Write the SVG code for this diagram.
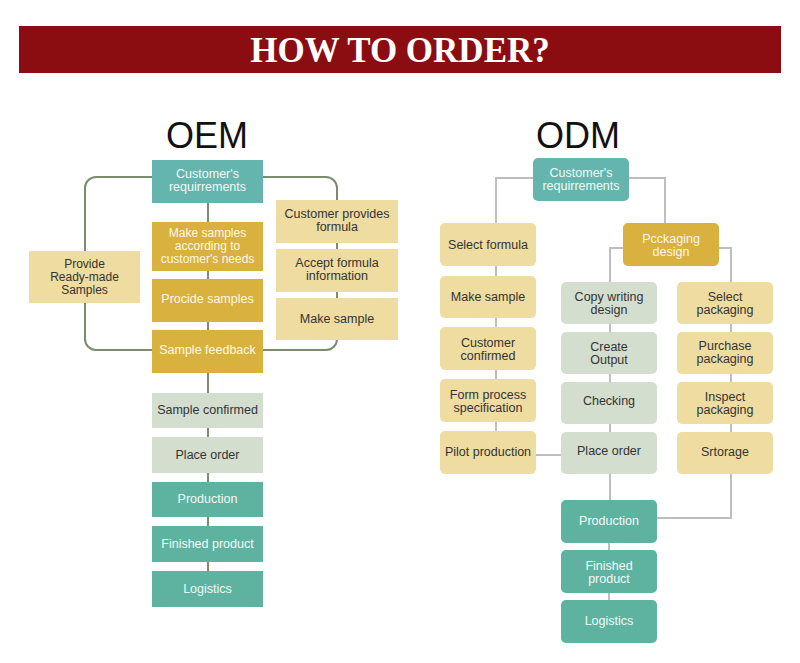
<svg xmlns="http://www.w3.org/2000/svg" width="800" height="663" viewBox="0 0 800 663">
<style>
text{font-family:"Liberation Sans",Arial,sans-serif;font-size:12.5px;text-anchor:middle}
.s{font-size:12px}
.title{font-size:36px;fill:#111}
.hd{font-family:"Liberation Serif","Times New Roman",serif;font-weight:bold;font-size:35px;fill:#fff}
.teal{fill:#64B5AD}
.grn{fill:#5EB3A0}
.mus{fill:#D8B13E}
.tan{fill:#EEDCA1}
.gry{fill:#D4DECF}
.lt{fill:#F2FAF8}
.lm{fill:#FFF8E6}
.dk{fill:#333}
.oem{fill:none;stroke:#7A8E6E;stroke-width:2}
.odm{fill:none;stroke:#BEBEBE;stroke-width:2}
</style>
<rect width="800" height="663" fill="#fff"/>
<g id="header">
<rect x="19" y="26" width="762" height="47" fill="#8B0D12"/>
<text class="hd" x="400" y="62">HOW TO ORDER?</text>
</g>
<text class="title" x="207" y="148">OEM</text>
<text class="title" x="578" y="148">ODM</text>
<g id="connectors">
<rect class="oem" x="85" y="177" width="252" height="173" rx="11"/>
<line class="oem" x1="208" y1="203" x2="208" y2="571"/>
<path class="odm" d="M533 178H496V455H561M629 178H665V223M623 248H610V500M719 248H731V518H657M609 543V600"/>
</g>
<g id="oem-customer"><rect class="teal" x="152" y="160" width="111" height="43"/><text class="lt" x="207.5" y="178">Customer's</text><text class="lt" x="207.5" y="191">requirrements</text></g>
<g id="oem-make"><rect class="mus" x="152" y="222" width="111" height="49"/><text class="lm s" x="207.5" y="237">Make samples</text><text class="lm s" x="207.5" y="250">according to</text><text class="lm s" x="207.5" y="263">customer's needs</text></g>
<g id="oem-procide"><rect class="mus" x="152" y="279" width="111" height="43"/><text class="lm" x="207.5" y="303">Procide samples</text></g>
<g id="oem-feedback"><rect class="mus" x="152" y="330" width="111" height="43"/><text class="lm" x="207.5" y="354">Sample feedback</text></g>
<g id="oem-ready"><rect class="tan" x="29" y="251" width="111" height="52"/><text class="dk s" x="84.5" y="268">Provide</text><text class="dk s" x="84.5" y="281">Ready-made</text><text class="dk s" x="84.5" y="294">Samples</text></g>
<g id="oem-provides"><rect class="tan" x="276" y="200" width="122" height="43"/><text class="dk" x="337" y="218">Customer provides</text><text class="dk" x="337" y="231">formula</text></g>
<g id="oem-accept"><rect class="tan" x="276" y="249" width="122" height="43"/><text class="dk" x="337" y="267">Accept formula</text><text class="dk" x="337" y="280">information</text></g>
<g id="oem-makesample"><rect class="tan" x="276" y="298" width="122" height="42"/><text class="dk" x="337" y="323">Make sample</text></g>
<g id="oem-confirmed"><rect class="gry" x="152" y="393" width="111" height="35"/><text class="dk" x="207.5" y="414">Sample confirmed</text></g>
<g id="oem-order"><rect class="gry" x="152" y="437" width="111" height="36"/><text class="dk" x="207.5" y="459">Place order</text></g>
<g id="oem-production"><rect class="grn" x="152" y="482" width="111" height="35"/><text class="lt" x="207.5" y="503">Production</text></g>
<g id="oem-finished"><rect class="grn" x="152" y="526" width="111" height="36"/><text class="lt" x="207.5" y="548">Finished product</text></g>
<g id="oem-logistics"><rect class="grn" x="152" y="571" width="111" height="36"/><text class="lt" x="207.5" y="593">Logistics</text></g>
<g id="odm-customer"><rect class="teal" x="533" y="158" width="96" height="43" rx="5"/><text class="lt" x="581" y="177">Customer's</text><text class="lt" x="581" y="190">requirrements</text></g>
<g id="odm-select"><rect class="tan" x="440" y="223" width="96" height="43" rx="5"/><text class="dk" x="488" y="249">Select formula</text></g>
<g id="odm-make"><rect class="tan" x="440" y="276" width="96" height="42" rx="5"/><text class="dk" x="488" y="301">Make sample</text></g>
<g id="odm-confirmed"><rect class="tan" x="440" y="327" width="96" height="43" rx="5"/><text class="dk" x="488" y="347">Customer</text><text class="dk" x="488" y="360">confirmed</text></g>
<g id="odm-form"><rect class="tan" x="440" y="379" width="96" height="43" rx="5"/><text class="dk" x="488" y="399">Form process</text><text class="dk" x="488" y="412">specification</text></g>
<g id="odm-pilot"><rect class="tan" x="440" y="431" width="96" height="43" rx="5"/><text class="dk" x="488" y="456">Pilot production</text></g>
<g id="odm-packaging"><rect class="mus" x="623" y="223" width="96" height="43" rx="5"/><text class="lm" x="671" y="243">Pcckaging</text><text class="lm" x="671" y="256">design</text></g>
<g id="odm-copy"><rect class="gry" x="561" y="282" width="96" height="42" rx="5"/><text class="dk" x="609" y="301">Copy writing</text><text class="dk" x="609" y="314">design</text></g>
<g id="odm-create"><rect class="gry" x="561" y="332" width="96" height="42" rx="5"/><text class="dk" x="609" y="351">Create</text><text class="dk" x="609" y="364">Output</text></g>
<g id="odm-checking"><rect class="gry" x="561" y="382" width="96" height="42" rx="5"/><text class="dk" x="609" y="405">Checking</text></g>
<g id="odm-order"><rect class="gry" x="561" y="432" width="96" height="42" rx="5"/><text class="dk" x="609" y="455">Place order</text></g>
<g id="odm-selpack"><rect class="tan" x="677" y="282" width="96" height="42" rx="5"/><text class="dk" x="725" y="301">Select</text><text class="dk" x="725" y="314">packaging</text></g>
<g id="odm-purchase"><rect class="tan" x="677" y="332" width="96" height="42" rx="5"/><text class="dk" x="725" y="350">Purchase</text><text class="dk" x="725" y="363">packaging</text></g>
<g id="odm-inspect"><rect class="tan" x="677" y="382" width="96" height="42" rx="5"/><text class="dk" x="725" y="401">Inspect</text><text class="dk" x="725" y="414">packaging</text></g>
<g id="odm-storage"><rect class="tan" x="677" y="432" width="96" height="42" rx="5"/><text class="dk" x="725" y="456">Srtorage</text></g>
<g id="odm-production"><rect class="grn" x="561" y="500" width="96" height="43" rx="5"/><text class="lt" x="609" y="525">Production</text></g>
<g id="odm-finished"><rect class="grn" x="561" y="550" width="96" height="43" rx="5"/><text class="lt" x="609" y="570">Finished</text><text class="lt" x="609" y="583">product</text></g>
<g id="odm-logistics"><rect class="grn" x="561" y="600" width="96" height="43" rx="5"/><text class="lt" x="609" y="625">Logistics</text></g>
</svg>
